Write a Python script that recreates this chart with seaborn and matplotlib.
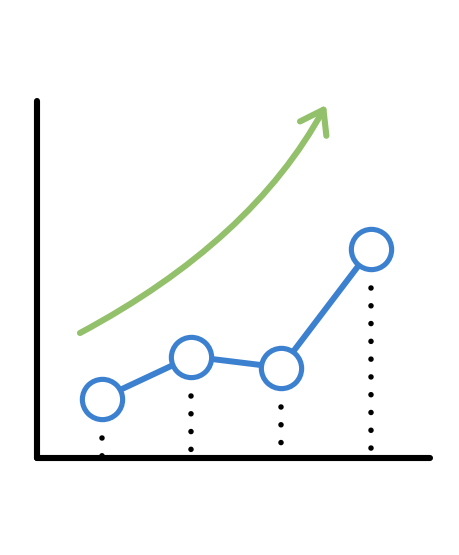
import numpy as np
import pandas as pd
import matplotlib
matplotlib.use("Agg")
import matplotlib.pyplot as plt
from matplotlib.patches import FancyArrowPatch
from matplotlib.path import Path
from matplotlib.collections import LineCollection
import seaborn as sns

# data
steps = [1, 2, 3, 4]
values = [5.9, 10.1, 9.0, 20.8]
# trend arrow (start, control, tip) in data units
trend_x = [0.758, 2.676, 3.501]
trend_y = [12.45, 21.65, 35.25]

BLUE = "#3C80D0"
GREEN = "#93C06A"

sns.set_theme(style="white")
fig = plt.figure(figsize=(4.59, 5.55), dpi=100)
ax = fig.add_axes([37/459, (555-457.5)/555, (430-37)/459, (457.5-101)/555])

ax.set_xlim(0.2787, 4.660)
ax.set_ylim(0, 35.65)
ax.set_xticks([])
ax.set_yticks([])
ax.set_facecolor("white")
for s in ["top", "right"]:
    ax.spines[s].set_visible(False)
for s in ["left", "bottom"]:
    ax.spines[s].set_linewidth(4.4)
    ax.spines[s].set_color("black")
    ax.spines[s].set_capstyle("round")
    ax.spines[s].set_zorder(5)

df = pd.DataFrame({"step": steps, "value": values})

# dotted drop lines (pattern starts just below each circle)
starts = [v - 3.9 for v in values]
segs = [[(x, s), (x, 0)] for x, s in zip(steps, starts)]
lc = LineCollection(segs, colors="black", linewidths=4.0,
                    linestyles=[(0, (0.001, 3.2))], capstyle="round", zorder=2)
ax.add_collection(lc)

sns.lineplot(data=df, x="step", y="value", ax=ax, color=BLUE, linewidth=4.3,
             marker="o", markersize=29.0, markeredgewidth=3.7,
             markerfacecolor="white", markeredgecolor=BLUE, zorder=3)

path = Path(list(zip(trend_x, trend_y)), [Path.MOVETO, Path.CURVE3, Path.CURVE3])
arrow = FancyArrowPatch(path=path, arrowstyle="->,head_length=15.5,head_width=10.8",
                        color=GREEN, linewidth=4.4, capstyle="round",
                        joinstyle="round", mutation_scale=1,
                        transform=ax.transData, clip_on=False, zorder=4)
ax.add_patch(arrow)

ax.set_xlabel("")
ax.set_ylabel("")
fig.savefig("out.png", dpi=100, facecolor="white")
